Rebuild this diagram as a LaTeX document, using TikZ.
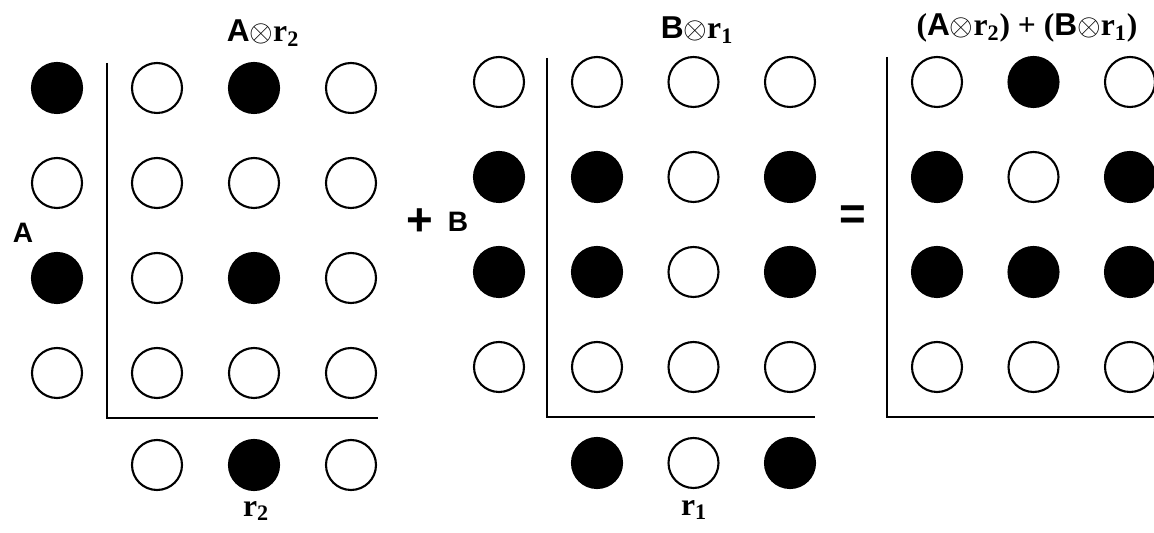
\documentclass[tikz,border=0pt]{standalone}
\usepackage{fontspec}
\setmainfont{Liberation Serif}
\setsansfont{Liberation Sans}
\usetikzlibrary{positioning}

\begin{document}
\begin{tikzpicture}[x=0.02cm, y=-0.02cm,
    dot/.style={circle, draw=black, line width=1.2pt, minimum size=1cm, inner sep=0pt},
    fulldot/.style={dot, fill=black},
    opendot/.style={dot, fill=white},
    axis/.style={line width=1.1pt},
    vname/.style={font=\sffamily\bfseries\fontsize{16}{18}\selectfont},
    rname/.style={font=\bfseries\fontsize{18}{20}\selectfont},
    title/.style={font=\bfseries\fontsize{18}{20}\selectfont},
    sign/.style={font=\sffamily\bfseries\fontsize{26}{28}\selectfont}
  ]
  \useasboundingbox (0,0) rectangle (1154,533);

  % A (x) r2
  \foreach \s [count=\i] in {fulldot,opendot,fulldot,opendot}
    \node[\s] (a\i) at (57,{88+95*(\i-1)}) {};
  \foreach \row [count=\i] in {{opendot,fulldot,opendot},{opendot,opendot,opendot},
                               {opendot,fulldot,opendot},{opendot,opendot,opendot}}
    \foreach \s [count=\j] in \row
      \node[\s] (p\i\j) at ({157+97*(\j-1)},{88+95*(\i-1)}) {};
  \foreach \s [count=\j] in {opendot,fulldot,opendot}
    \node[\s] (rb\j) at ({157+97*(\j-1)},465) {};
  \coordinate (ptop) at (107,63);
  \coordinate (pcorner) at (107,418);
  \coordinate (pend) at (378,418);
  \draw[axis] (ptop) -- (pcorner) -- (pend);
  \node[vname] (alabel) at (23,233) {A};
  \node[rname] (rblabel) at (256,511) {r\textsubscript{2}};
  \node[title] (ptitle) at (263,33) {\textsf{A}$\otimes$r\textsubscript{2}};

  \node[sign] (plus) at (420,222) {+};
  \node[vname] (blabel) at (458,222) {B};

  % B (x) r1
  \foreach \s [count=\i] in {opendot,fulldot,fulldot,opendot}
    \node[\s] (b\i) at (499,{82+95*(\i-1)}) {};
  \foreach \row [count=\i] in {{opendot,opendot,opendot},{fulldot,opendot,fulldot},
                               {fulldot,opendot,fulldot},{opendot,opendot,opendot}}
    \foreach \s [count=\j] in \row
      \node[\s] (q\i\j) at ({597+96.5*(\j-1)},{82+95*(\i-1)}) {};
  \foreach \s [count=\j] in {fulldot,opendot,fulldot}
    \node[\s] (ra\j) at ({597+96.5*(\j-1)},463) {};
  \coordinate (qtop) at (547,58);
  \coordinate (qcorner) at (547,417);
  \coordinate (qend) at (815,417);
  \draw[axis] (qtop) -- (qcorner) -- (qend);
  \node[rname] (ralabel) at (694,510) {r\textsubscript{1}};
  \node[title] (qtitle) at (697,30) {\textsf{B}$\otimes$r\textsubscript{1}};

  \node[sign] (equals) at (853,218) {=};

  % sum
  \foreach \row [count=\i] in {{opendot,fulldot,opendot},{fulldot,opendot,fulldot},
                               {fulldot,fulldot,fulldot},{opendot,opendot,opendot}}
    \foreach \s [count=\j] in \row
      \node[\s] (s\i\j) at ({937+96.5*(\j-1)},{82+95*(\i-1)}) {};
  \coordinate (stop) at (887,57);
  \coordinate (scorner) at (887,417);
  \coordinate (send) at (1160,417);
  \draw[axis] (stop) -- (scorner) -- (send);
  \node[title] (stitle) at (1027,28)
    {(\textsf{A}$\otimes$r\textsubscript{2}) + (\textsf{B}$\otimes$r\textsubscript{1})};
\end{tikzpicture}
\end{document}
